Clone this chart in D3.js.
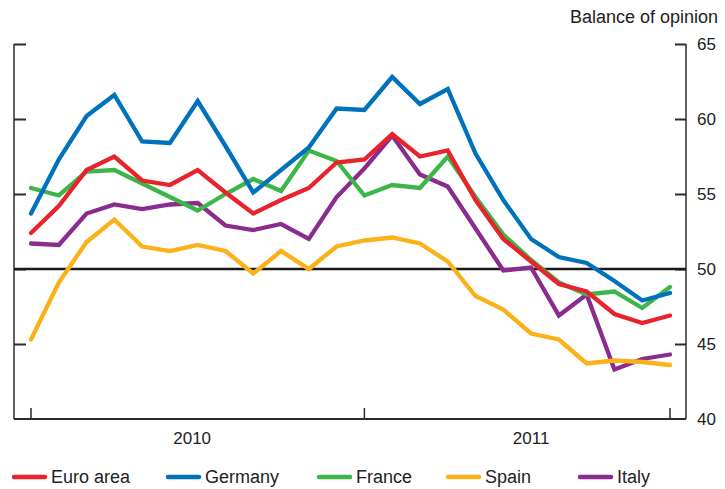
<!DOCTYPE html>
<html>
<head>
<meta charset="utf-8">
<script src="https://cdn.jsdelivr.net/npm/d3@7"></script>
<style>
  body { margin: 0; background: #fff; }
  svg { display: block; font-family: "Liberation Sans", Arial, sans-serif; }
</style>
</head>
<body>
<svg width="725" height="489"></svg>
<script>
// Months Jan 2010 .. Dec 2011
let months = d3.range(24);
let yearLabels = ["2010", "2011"];
let yTicks = [40, 45, 50, 55, 60, 65];

let euroArea = [52.4, 54.2, 56.6, 57.5, 55.9, 55.6, 56.6, 55.1, 53.7, 54.6, 55.4, 57.1,
                57.3, 59.0, 57.5, 57.9, 54.6, 52.0, 50.5, 49.0, 48.5, 47.0, 46.4, 46.9];
let germany  = [53.7, 57.3, 60.2, 61.6, 58.5, 58.4, 61.2, 58.2, 55.1, 56.6, 58.1, 60.7,
                60.6, 62.8, 61.0, 62.0, 57.7, 54.6, 52.0, 50.8, 50.4, 49.2, 47.9, 48.4];
let france   = [55.4, 54.9, 56.5, 56.6, 55.7, 54.8, 53.9, 55.0, 56.0, 55.2, 57.9, 57.2,
                54.9, 55.6, 55.4, 57.5, 54.8, 52.3, 50.6, 49.1, 48.3, 48.5, 47.4, 48.8];
let spain    = [45.3, 49.1, 51.8, 53.3, 51.5, 51.2, 51.6, 51.2, 49.7, 51.2, 50.0, 51.5,
                51.9, 52.1, 51.7, 50.5, 48.2, 47.3, 45.7, 45.3, 43.7, 43.9, 43.8, 43.6];
let italy    = [51.7, 51.6, 53.7, 54.3, 54.0, 54.3, 54.4, 52.9, 52.6, 53.0, 52.0, 54.8,
                56.7, 58.9, 56.3, 55.5, 52.7, 49.9, 50.1, 46.9, 48.3, 43.3, 44.0, 44.3];

let series = [
    {name: "Euro area", values: euroArea, color: "#e8232b"},
    {name: "Germany", values: germany, color: "#0072bb"},
    {name: "France", values: france, color: "#3db649"},
    {name: "Spain", values: spain, color: "#fbb117"},
    {name: "Italy", values: italy, color: "#8a2b8e"}
];

let plotLeft = 14, plotRight = 686, plotTop = 44, plotBottom = 419;

let svg = d3.select("svg");

let x = d3.scaleLinear().domain([0, 23]).range([31, 670]);
let y = d3.scaleLinear().domain([40, 65]).range([plotBottom, plotTop]);

let axisColor = "#2b2b2b";

// left axis (ticks pointing inward, no labels)
svg.append("g")
    .attr("transform", "translate(" + plotLeft + ",0)")
    .call(d3.axisRight(y).tickValues(yTicks.slice(1)).tickSize(12).tickFormat(""))
    .call(g => g.select(".domain").attr("stroke", axisColor).attr("stroke-width", 1.5).attr("d", "M0," + plotTop + "V" + plotBottom))
    .call(g => g.selectAll(".tick line").attr("stroke", axisColor).attr("stroke-width", 2));

// right axis with labels outside, ticks inside
let rightAxis = svg.append("g")
    .attr("transform", "translate(" + plotRight + ",0)");
rightAxis.call(d3.axisRight(y).tickValues(yTicks).tickSize(0).tickPadding(11))
    .call(g => g.select(".domain").attr("stroke", axisColor).attr("stroke-width", 1.5).attr("d", "M0," + plotTop + "V" + plotBottom))
    .call(g => g.selectAll(".tick text").attr("font-size", 17).attr("fill", "#222")
        .attr("font-family", "'Liberation Sans', Arial, sans-serif"));
rightAxis.selectAll(".tick").filter(d => d !== 40).append("line")
    .attr("x1", -11).attr("x2", 0)
    .attr("stroke", axisColor).attr("stroke-width", 2);

// bottom axis
let xTickIdx = [0, 12, 23];
svg.append("line")
    .attr("x1", plotLeft).attr("x2", plotRight)
    .attr("y1", plotBottom).attr("y2", plotBottom)
    .attr("stroke", axisColor).attr("stroke-width", 2);
svg.append("g").selectAll("line")
    .data(xTickIdx)
    .enter().append("line")
    .attr("x1", d => x(d)).attr("x2", d => x(d))
    .attr("y1", plotBottom).attr("y2", plotBottom - 11)
    .attr("stroke", axisColor).attr("stroke-width", 1.5);
let yearPos = [5.8, 18];
svg.append("g").selectAll("text")
    .data(yearLabels)
    .enter().append("text")
    .attr("x", (d, i) => x(yearPos[i]))
    .attr("y", 444)
    .attr("text-anchor", "middle")
    .attr("font-size", 17)
    .attr("fill", "#222")
    .text(d => d);

// 50 reference line
svg.append("line")
    .attr("x1", plotLeft).attr("x2", plotRight)
    .attr("y1", y(50)).attr("y2", y(50))
    .attr("stroke", "#1a1a1a").attr("stroke-width", 2.5);

// unit label
svg.append("text")
    .attr("x", 718).attr("y", 23)
    .attr("text-anchor", "end")
    .attr("font-size", 18)
    .attr("fill", "#222")
    .text("Balance of opinion");

let line = d3.line()
    .x((d, i) => x(months[i]))
    .y(d => y(d));

svg.append("g").selectAll("path")
    .data(series.slice().reverse())
    .enter().append("path")
    .attr("d", d => line(d.values))
    .attr("fill", "none")
    .attr("stroke", d => d.color)
    .attr("stroke-width", 4.3)
    .attr("stroke-linejoin", "miter")
    .attr("stroke-linecap", "round");

// legend
let legendX = [14, 168, 319, 448, 580];
let legend = svg.append("g").selectAll("g")
    .data(series)
    .enter().append("g")
    .attr("transform", (d, i) => "translate(" + legendX[i] + ",477)");
legend.append("line")
    .attr("x1", 0).attr("x2", 31)
    .attr("stroke", d => d.color)
    .attr("stroke-width", 4.5)
    .attr("stroke-linecap", "round");
legend.append("text")
    .attr("x", 37)
    .attr("y", 6)
    .attr("font-size", 18)
    .attr("fill", "#222")
    .text(d => d.name);
</script>
</body>
</html>
